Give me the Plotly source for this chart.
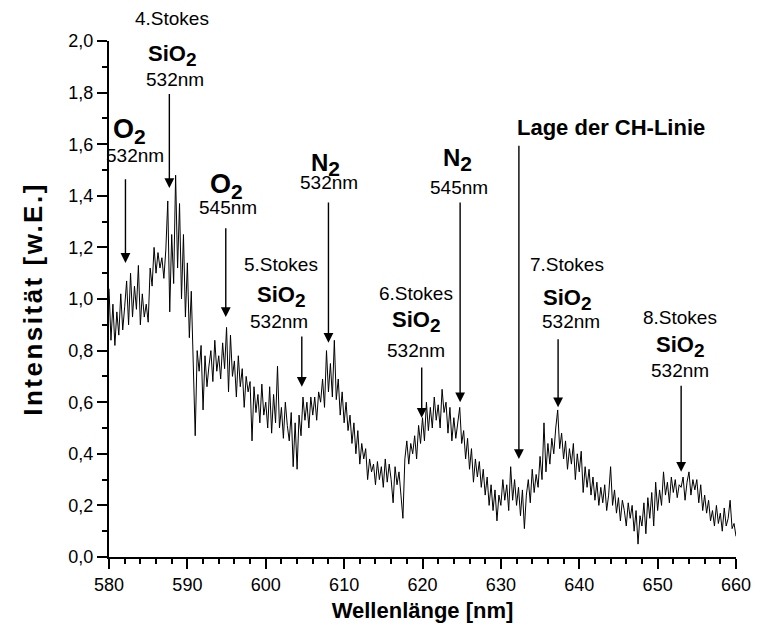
import numpy as np
import plotly.graph_objects as go

# Spectrum: intensity sampled every 0.25 nm from 580 to 660 nm
wl_start, wl_step = 580.0, 0.25
intensity = [
    1.04, 0.84, 0.98, 0.82,  0.95, 0.86, 1.02, 0.88,  0.97, 1.07, 0.90, 1.10,
    0.93, 1.05, 0.96, 1.13,  0.90, 1.02, 0.93, 0.98,  0.91, 1.12, 1.05, 1.20,
    1.10, 1.18, 1.12, 1.16,  1.08, 1.19, 1.38, 0.95,  1.25, 1.06, 1.48, 1.12,
    1.37, 1.00, 1.25, 0.93,  1.14, 0.85, 1.03, 0.78,  0.47, 0.80, 0.72, 0.82,
    0.57, 0.78, 0.66, 0.74,  0.80, 0.68, 0.84, 0.72,  0.78, 0.69, 0.83, 0.73,
    0.89, 0.64, 0.86, 0.70,  0.76, 0.62, 0.78, 0.66,  0.73, 0.58, 0.70, 0.64,
    0.68, 0.45, 0.66, 0.56,  0.63, 0.52, 0.67, 0.55,  0.60, 0.50, 0.66, 0.48,
    0.63, 0.52, 0.74, 0.50,  0.58, 0.46, 0.60, 0.51,  0.45, 0.56, 0.35, 0.52,
    0.34, 0.55, 0.47, 0.62,  0.53, 0.60, 0.50, 0.62,  0.55, 0.62, 0.53, 0.64,
    0.60, 0.69, 0.58, 0.80,  0.64, 0.75, 0.62, 0.84,  0.61, 0.69, 0.55, 0.64,
    0.52, 0.60, 0.49, 0.55,  0.44, 0.52, 0.40, 0.49,  0.36, 0.44, 0.38, 0.42,
    0.30, 0.38, 0.33, 0.36,  0.28, 0.37, 0.30, 0.35,  0.27, 0.38, 0.29, 0.36,
    0.30, 0.21, 0.35, 0.28,  0.33, 0.24, 0.15, 0.38,  0.45, 0.36, 0.44, 0.40,
    0.47, 0.38, 0.51, 0.44,  0.54, 0.45, 0.60, 0.49,  0.58, 0.50, 0.62, 0.53,
    0.59, 0.50, 0.65, 0.56,  0.60, 0.48, 0.58, 0.45,  0.54, 0.46, 0.52, 0.58,
    0.44, 0.49, 0.38, 0.46,  0.34, 0.42, 0.29, 0.38,  0.31, 0.37, 0.27, 0.34,
    0.24, 0.31, 0.20, 0.28,  0.18, 0.26, 0.14, 0.24,  0.20, 0.30, 0.22, 0.28,
    0.18, 0.35, 0.22, 0.30,  0.20, 0.27, 0.16, 0.26,  0.11, 0.24, 0.30, 0.21,
    0.34, 0.25, 0.32, 0.27,  0.39, 0.30, 0.52, 0.33,  0.44, 0.36, 0.46, 0.40,
    0.50, 0.57, 0.42, 0.48,  0.38, 0.45, 0.34, 0.42,  0.36, 0.44, 0.30, 0.40,
    0.33, 0.41, 0.25, 0.35,  0.27, 0.34, 0.24, 0.31,  0.22, 0.29, 0.20, 0.27,
    0.21, 0.28, 0.18, 0.24,  0.35, 0.20, 0.26, 0.17,  0.23, 0.14, 0.22, 0.18,
    0.12, 0.21, 0.15, 0.20,  0.10, 0.18, 0.05, 0.16,  0.12, 0.21, 0.09, 0.23,
    0.15, 0.25, 0.12, 0.29,  0.18, 0.26, 0.20, 0.33,  0.24, 0.29, 0.21, 0.31,
    0.25, 0.30, 0.23, 0.28,  0.27, 0.31, 0.22, 0.29,  0.33, 0.24, 0.30, 0.26,
    0.30, 0.21, 0.28, 0.18,  0.24, 0.17, 0.22, 0.14,  0.18, 0.12, 0.20, 0.13,
    0.17, 0.10, 0.19, 0.12,  0.15, 0.22, 0.11, 0.13,
    0.08,
]
wavelength = wl_start + wl_step * np.arange(len(intensity))

# Line markers: wavelength, arrow tip, arrow tail (intensity units)
line_wl   = [582.1, 587.7, 594.9, 608.0, 604.6, 619.9, 624.8, 632.3, 637.3, 653.0]
line_tip  = [1.14, 1.43, 0.93, 0.83, 0.66, 0.54, 0.60, 0.38, 0.58, 0.33]
line_tail = [1.47, 1.80, 1.28, 1.38, 0.86, 0.74, 1.38, 1.60, 0.85, 0.67]

Y_MAX = 2.0
FONT = "Liberation Sans, Arial, sans-serif"


def species(base, sub_size):
    return f"<b>{base}<sub><span style='font-size:{sub_size}px'>2</span></sub></b>"


# Label texts: (text, wavelength, intensity level, font size)
labels = [
    ("4.Stokes", 588.1, 2.089, 19),
    (species("SiO", 19), 588.1, 1.945, 22),
    ("532nm", 588.4, 1.849, 19),
    (species("O", 21), 582.6, 1.650, 27),
    ("532nm", 583.3, 1.558, 19),
    (species("O", 21), 595.0, 1.437, 27),
    ("545nm", 595.2, 1.353, 19),
    (species("N", 21), 607.6, 1.520, 24),
    ("532nm", 608.1, 1.450, 19),
    ("5.Stokes", 601.9, 1.132, 19),
    (species("SiO", 19), 601.9, 1.008, 22),
    ("532nm", 601.7, 0.911, 19),
    ("6.Stokes", 619.2, 1.023, 19),
    (species("SiO", 19), 619.2, 0.911, 22),
    ("532nm", 619.2, 0.802, 19),
    (species("N", 21), 624.5, 1.540, 24),
    ("545nm", 624.6, 1.434, 19),
    ("<b>Lage der CH-Linie</b>", 644.0, 1.663, 22),
    ("7.Stokes", 638.4, 1.132, 19),
    (species("SiO", 19), 638.4, 1.000, 22),
    ("532nm", 638.9, 0.911, 19),
    ("8.Stokes", 652.8, 0.930, 19),
    (species("SiO", 19), 652.8, 0.814, 22),
    ("532nm", 652.8, 0.721, 19),
]

fig = go.Figure()
fig.add_trace(go.Scatter(
    x=wavelength, y=intensity, mode="lines",
    line=dict(color="black", width=1), hoverinfo="skip", showlegend=False,
))

annotations = []
for wl, tip, tail in zip(line_wl, line_tip, line_tail):
    annotations.append(dict(
        x=wl, y=tip, ax=wl, ay=tail, xref="x", yref="y", axref="x", ayref="y",
        text="", showarrow=True, arrowhead=2, arrowsize=1.4, arrowwidth=1.4,
        arrowcolor="black",
    ))
for text, x, level, size in labels:
    # vertical placement in plot-area fractions so labels above the frame still show
    annotations.append(dict(
        x=x, y=level / Y_MAX, xref="x", yref="paper", text=text, showarrow=False,
        font=dict(family=FONT, size=size, color="black"),
        xanchor="center", yanchor="middle",
    ))

axis_common = dict(
    showgrid=False, zeroline=False, showline=True, linecolor="black", linewidth=2,
    ticks="outside", ticklen=10, tickwidth=1.5, tickcolor="black",
    tickfont=dict(family=FONT, size=18, color="black"),
)

fig.update_layout(
    width=763, height=633,
    margin=dict(l=109, r=19, t=41, b=76),
    paper_bgcolor="white", plot_bgcolor="white",
    separators=", ",
    font=dict(family=FONT, color="black"),
    xaxis=dict(
        range=[580, 660], dtick=10, tick0=580,
        minor=dict(dtick=2, ticklen=5, tickwidth=1.5, tickcolor="black", ticks="outside"),
        title=dict(text="<b>Wellenlänge [nm]</b>", font=dict(family=FONT, size=22), standoff=9),
        **axis_common,
    ),
    yaxis=dict(
        range=[0, Y_MAX], dtick=0.2, tick0=0, tickformat=".1f",
        minor=dict(dtick=0.1, ticklen=5, tickwidth=1.5, tickcolor="black", ticks="outside"),
        title=dict(
            text="<span style='letter-spacing:2.5px'><b>Intensität [w.E.]</b></span>",
            font=dict(family=FONT, size=26), standoff=18,
        ),
        **axis_common,
    ),
    annotations=annotations,
)

fig.write_html("out.html")
